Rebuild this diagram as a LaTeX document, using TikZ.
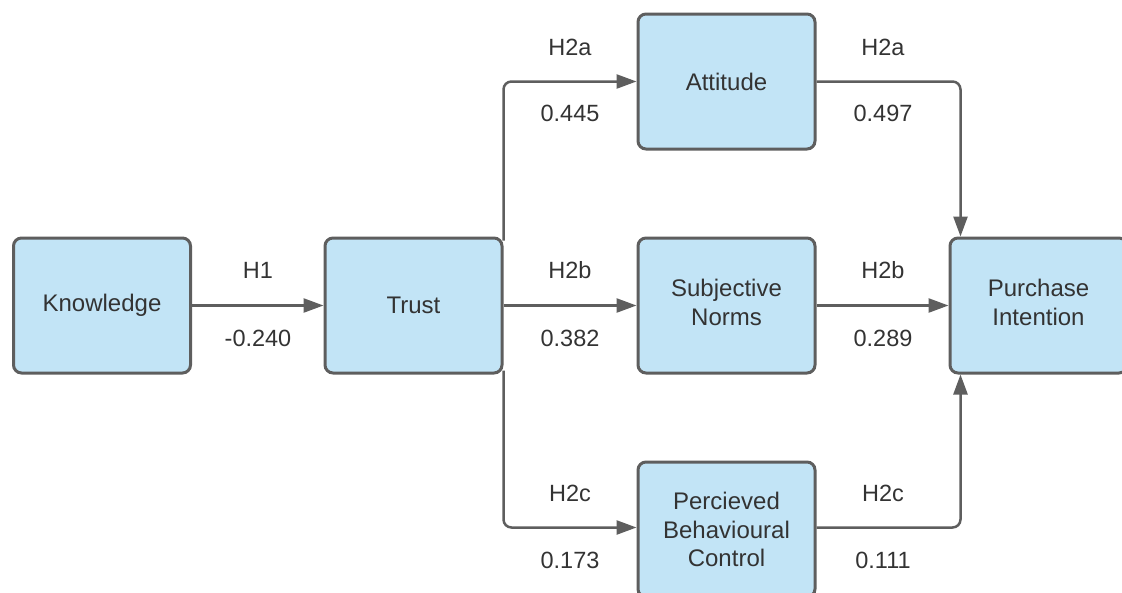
\documentclass[tikz,border=0pt]{standalone}
\usepackage{fontspec}
\setmainfont{Liberation Sans}
\usetikzlibrary{arrows.meta}
\definecolor{boxfill}{RGB}{194,228,246}
\definecolor{boxline}{RGB}{94,94,94}
\definecolor{txt}{RGB}{51,51,51}
\newcommand{\twoline}[2]{\raisebox{3pt}{\begin{tabular}{@{}c@{}}#1\\#2\end{tabular}}}
\tikzset{
  box/.style={draw=boxline, fill=boxfill, line width=3pt, rounded corners=8pt,
    minimum width=177pt, minimum height=135pt, inner sep=0pt, align=center,
    text=txt, font=\fontsize{24}{28.5}\selectfont},
  lbl/.style={text=txt, font=\fontsize{23.5}{28}\selectfont, inner sep=0pt},
  arr/.style={draw=boxline, line width=2.5pt, -{Triangle[length=20pt,width=14pt]}, rounded corners=8pt}
}
\begin{document}
\begin{tikzpicture}[x=1pt,y=-1pt]
\useasboundingbox (0,0) rectangle (1122,592);
\clip (0,0) rectangle (1122,592);
\node[box] (K) at (102,305.5) {Knowledge};
\node[box] (T) at (413.5,305.5) {Trust};
\node[box] (A) at (726.5,81.5) {Attitude};
\node[box] (S) at (726.5,305.5) {\twoline{Subjective}{Norms}};
\node[box] (P) at (726.5,529.5) {Percieved\\Behavioural\\Control};
\node[box] (PI) at (1038.5,305.5) {\twoline{Purchase}{Intention}};
\coordinate (tne) at ([yshift=-4pt]T.north east);
\coordinate (tse) at ([yshift=4pt]T.south east);
\coordinate (pitop) at ([xshift=12pt]PI.north west);
\coordinate (pibot) at ([xshift=12pt]PI.south west);
\draw[arr] (K.east) -- (T.west);
\draw[arr] (T.east) -- (S.west);
\draw[arr] (tne) |- (A.west);
\draw[arr] (tse) |- ([yshift=2pt]P.west);
\draw[arr] ([yshift=2pt]P.east) -| (pibot);
\draw[arr] (A.east) -| (pitop);
\draw[arr] (S.east) -- (PI.west);
\node[lbl] (l1) at (258,270) {H1};
\node[lbl] (v1) at (258,338) {-0.240};
\node[lbl] (l2) at (570,47) {H2a};
\node[lbl] (v2) at (570,113) {0.445};
\node[lbl] (l3) at (883,47) {H2a};
\node[lbl] (v3) at (883,113) {0.497};
\node[lbl] (l4) at (570,270) {H2b};
\node[lbl] (v4) at (570,338) {0.382};
\node[lbl] (l5) at (883,270) {H2b};
\node[lbl] (v5) at (883,338) {0.289};
\node[lbl] (l6) at (570,493) {H2c};
\node[lbl] (v6) at (570,560) {0.173};
\node[lbl] (l7) at (883,493) {H2c};
\node[lbl] (v7) at (883,560) {0.111};
\end{tikzpicture}
\end{document}
